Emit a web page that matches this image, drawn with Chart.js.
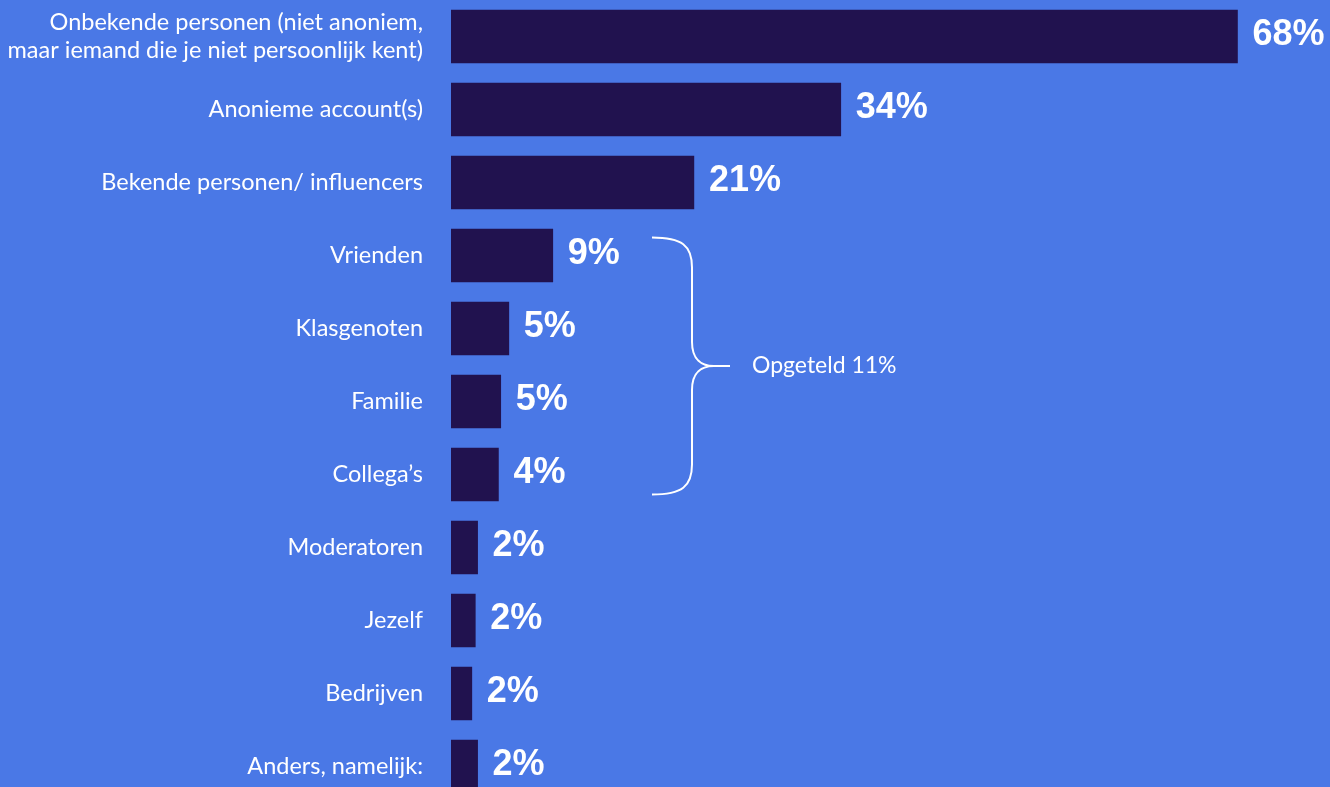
<!DOCTYPE html>
<html>
<head>
<meta charset="utf-8">
<script src="https://cdn.jsdelivr.net/npm/chart.js@4"></script>
<style>
  html, body { margin: 0; padding: 0; overflow: hidden; background: #4a78e6; }
  #wrap { width: 1330px; height: 803px; }
</style>
</head>
<body>
<div id="wrap"><canvas id="whoChart" width="1330" height="803"></canvas></div>
<script>
// data
const categories = [
  ['Onbekende personen (niet anoniem,', 'maar iemand die je niet persoonlijk kent)'],
  'Anonieme account(s)',
  'Bekende personen/ influencers',
  'Vrienden',
  'Klasgenoten',
  'Familie',
  'Collega\u2019s',
  'Moderatoren',
  'Jezelf',
  'Bedrijven',
  'Anders, namelijk:'
];
const values = [68, 33.7, 21, 8.8, 5.0, 4.3, 4.1, 2.3, 2.1, 1.8, 2.3];
const shownPct = [68, 34, 21, 9, 5, 5, 4, 2, 2, 2, 2];
const groupFrom = 3;   // Vrienden
const groupTo = 6;     // Collega's
const groupLabel = 'Opgeteld 11%';

const navy = '#21124f';

// value labels + the bracket on the right
const extras = {
  id: 'extras',
  afterDatasetsDraw(chart) {
    const ctx = chart.ctx;
    const meta = chart.getDatasetMeta(0);
    ctx.save();
    ctx.fillStyle = '#ffffff';
    ctx.font = 'bold 36px "Liberation Sans", Arial, sans-serif';
    ctx.textBaseline = 'middle';
    ctx.textAlign = 'left';
    meta.data.forEach((bar, i) => {
      ctx.fillText(shownPct[i] + '%', bar.x + 15, bar.y - 1);
    });

    // curly bracket
    const y = chart.scales.y;
    const top = y.getPixelForValue(groupFrom) - 18;
    const bot = y.getPixelForValue(groupTo) + 20;
    const mid = (top + bot) / 2;
    const x0 = 652, x1 = 692, tip = 730;
    ctx.strokeStyle = '#ffffff';
    ctx.lineWidth = 2;
    ctx.beginPath();
    ctx.moveTo(x0, top);
    ctx.bezierCurveTo(x0 + 30, top, x1, top + 8, x1, top + 30);
    ctx.lineTo(x1, mid - 24);
    ctx.bezierCurveTo(x1, mid - 6, x1 + 10, mid, x1 + 22, mid);
    ctx.lineTo(tip, mid);
    ctx.moveTo(x1 + 22, mid);
    ctx.bezierCurveTo(x1 + 10, mid, x1, mid + 6, x1, mid + 24);
    ctx.lineTo(x1, bot - 30);
    ctx.bezierCurveTo(x1, bot - 8, x0 + 30, bot, x0, bot);
    ctx.stroke();

    ctx.font = '23px Lato, sans-serif';
    ctx.fillText(groupLabel, 752, mid);
    ctx.restore();
  }
};

const ctx = document.getElementById('whoChart').getContext('2d');
new Chart(ctx, {
  type: 'bar',
  data: {
    labels: categories,
    datasets: [{
      data: values,
      backgroundColor: navy,
      barThickness: 53
    }]
  },
  options: {
    indexAxis: 'y',
    responsive: false,
    animation: false,
    layout: { padding: 0 },
    plugins: {
      legend: { display: false },
      tooltip: { enabled: false }
    },
    scales: {
      x: {
        display: false,
        min: 0,
        max: 76
      },
      y: {
        grid: { display: false, drawTicks: false },
        border: { display: false },
        ticks: {
          color: '#ffffff',
          padding: 28,
          font: { family: 'Lato', size: 23.5, lineHeight: 1.2 }
        },
        afterFit(scale) {
          scale.width = 451;
          scale.paddingTop = 0;
          scale.paddingBottom = 0;
        }
      }
    }
  },
  plugins: [extras]
});
</script>
</body>
</html>
